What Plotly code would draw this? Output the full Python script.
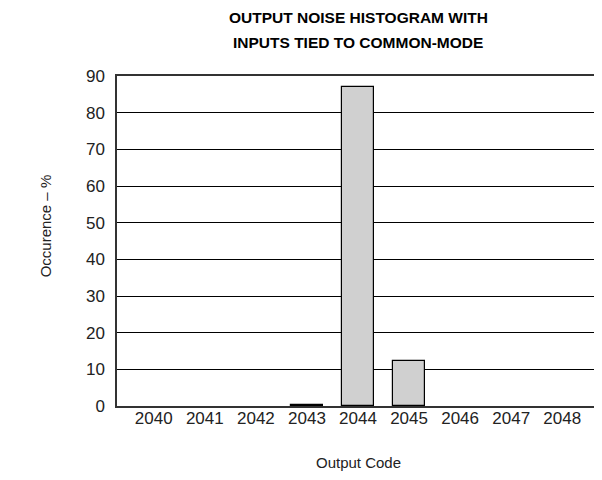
import plotly.graph_objects as go

codigos = ["2040", "2041", "2042", "2043", "2044", "2045", "2046", "2047", "2048"]
ocorrencia = [0, 0, 0, 0.3, 87, 12.4, 0, 0, 0]
ticks_y = [0, 10, 20, 30, 40, 50, 60, 70, 80, 90]

fonte = "Liberation Sans, Arial, sans-serif"

# barras com valor zero não devem mostrar contorno
contorno = [1.2 if v > 0 else 0 for v in ocorrencia]

fig = go.Figure(
    data=go.Bar(
        x=codigos,
        y=ocorrencia,
        width=0.61,
        marker=dict(color="#d0d0d0", line=dict(color="black", width=contorno)),
    )
)


def rotulo(texto, x, y, tam, angulo=0, negrito=False):
    if negrito:
        texto = f"<b>{texto}</b>"
    return dict(
        text=texto, xref="paper", yref="paper", x=x, y=y,
        xanchor="center", yanchor="middle", showarrow=False, textangle=angulo,
        font=dict(family=fonte, size=tam, color="black" if negrito else "#222"),
    )


fig.update_layout(
    width=594,
    height=472,
    margin=dict(l=109, r=1, t=68, b=74),
    plot_bgcolor="white",
    paper_bgcolor="white",
    font=dict(family=fonte, size=17, color="#222"),
    xaxis=dict(
        type="category",
        range=[-0.72, 8.72],
        showline=True,
        mirror=True,
        linecolor="#333",
        linewidth=1.5,
        showgrid=False,
        ticks="",
        ticklabelstandoff=-4,
    ),
    yaxis=dict(
        range=[0, 90],
        tickvals=ticks_y,
        showline=True,
        mirror=True,
        linecolor="#333",
        linewidth=1.5,
        showgrid=True,
        gridcolor="black",
        gridwidth=1,
        ticks="",
        ticklabelstandoff=7,
        zeroline=False,
    ),
    annotations=[
        rotulo("OUTPUT NOISE HISTOGRAM WITH", 0.5, 1.176, 15.5, negrito=True),
        rotulo("INPUTS TIED TO COMMON-MODE", 0.5, 1.1, 15.5, negrito=True),
        rotulo("Output Code", 0.5, -0.17, 15),
        rotulo("Occurence – %", -0.149, 0.545, 15, angulo=-90),
    ],
    bargap=0,
    showlegend=False,
)

fig.write_html("out.html")
